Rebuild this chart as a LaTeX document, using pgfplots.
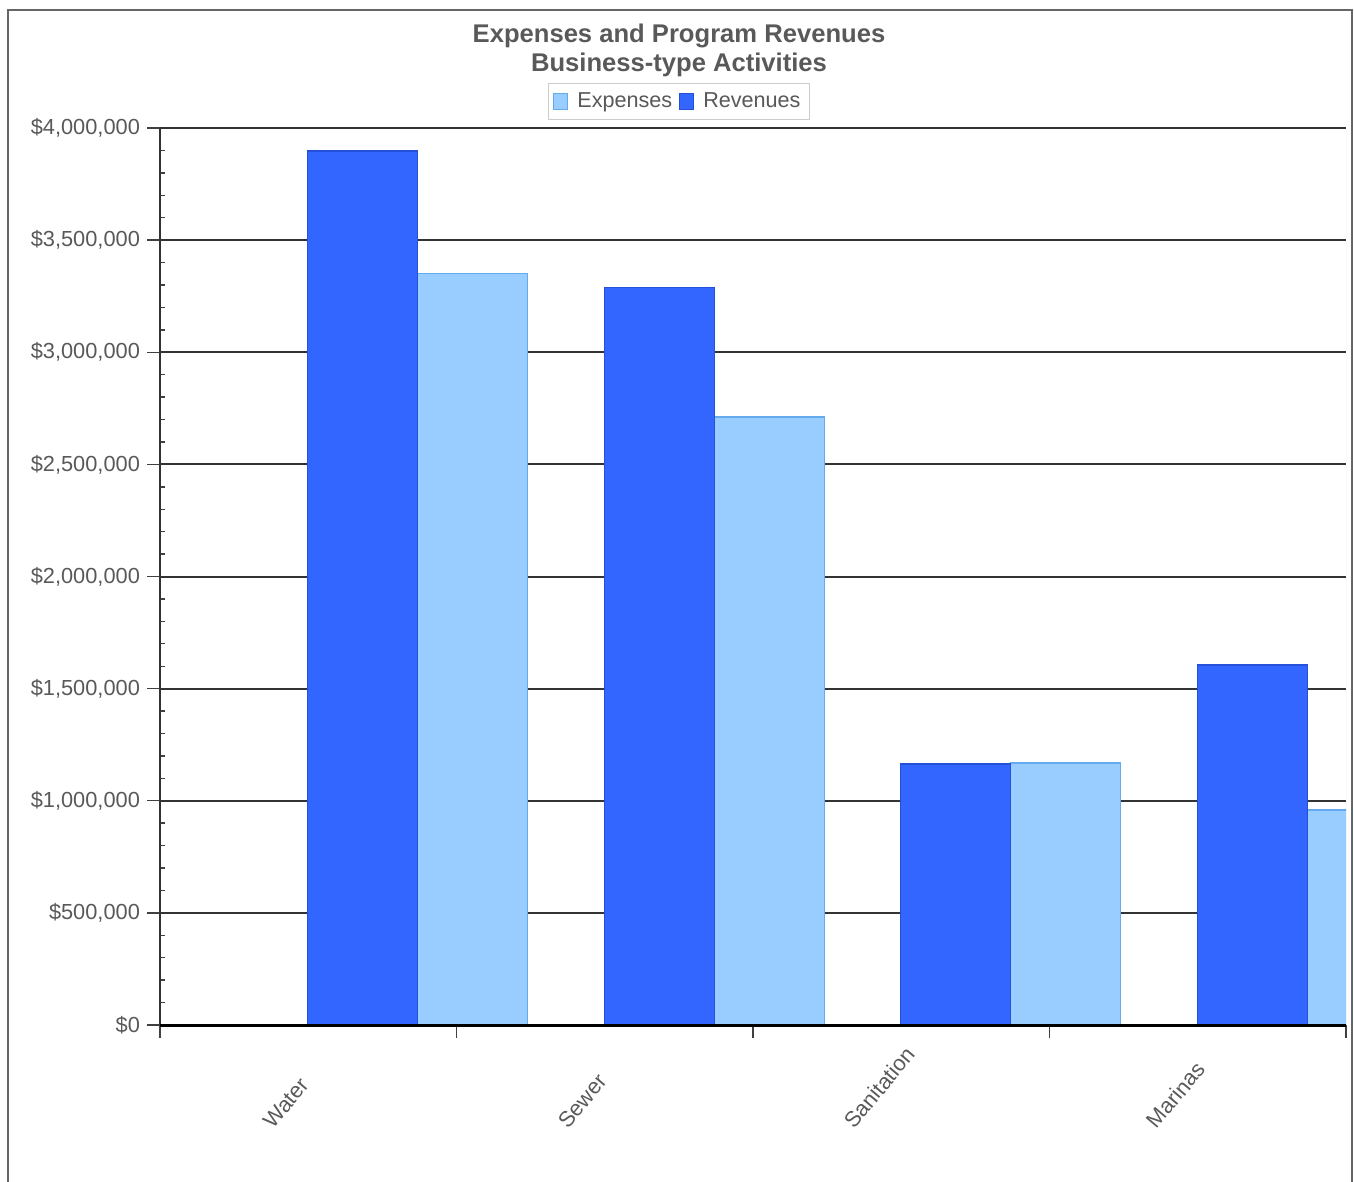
\documentclass[border=0pt]{standalone}
\usepackage{pgfplots}
\pgfplotsset{compat=1.18}
\usepackage{graphicx}
\usepackage{fontspec}
\setmainfont{Liberation Sans}
\definecolor{rev}{HTML}{3366FF}
\definecolor{revb}{HTML}{2450DA}
\definecolor{expc}{HTML}{99CCFF}
\definecolor{expb}{HTML}{66AAEE}
\definecolor{txt}{HTML}{595959}
\definecolor{grd}{HTML}{333333}
\pgfplotsset{sqlegend/.style={legend image code/.code={\draw[##1,line width=0.5pt] (0pt,-4pt) rectangle (7pt,4pt);}}}
\begin{document}
\begin{tikzpicture}
\useasboundingbox (0,0) rectangle (677pt,-591pt);
\draw[color=black!60, line width=1pt] (4pt,-600pt) -- (4pt,-5pt) -- (676pt,-5pt) -- (676pt,-600pt);
\node[font=\fontsize{12.8}{15}\selectfont\bfseries, text=txt] at (339.5pt,-18pt) {Expenses and Program Revenues};
\node[font=\fontsize{12.8}{15}\selectfont\bfseries, text=txt] at (339.5pt,-32.5pt) {Business-type Activities};
\begin{axis}[
  at={(80pt,-512.5pt)}, anchor=south west,
  scale only axis, width=593pt, height=448.5pt,
  xmin=0, xmax=4, ymin=0, ymax=4000000,
  axis x line*=bottom, axis y line*=left,
  x axis line style={black, line width=1.5pt, -},
  y axis line style={black!80, line width=0.8pt, -},
  scaled y ticks=false,
  ytick={0,500000,1000000,1500000,2000000,2500000,3000000,3500000,4000000},
  yticklabels={\$0,{\$500,000},{\$1,000,000},{\$1,500,000},{\$2,000,000},{\$2,500,000},{\$3,000,000},{\$3,500,000},{\$4,000,000}},
  yticklabel style={font=\fontsize{10.9}{13}\selectfont, text=txt},
  minor y tick num=4,
  tick align=outside, major tick length=6.5pt, minor tick length=-2.5pt,
  tick style={black!75, line width=0.7pt},
  xtick={0,1,2,3,4}, xticklabels={},
  extra x ticks={0.5,1.5,2.5,3.5},
  extra x tick labels={\rotatebox{50}{Water},\rotatebox{50}{Sewer},\rotatebox{50}{Sanitation},\rotatebox{50}{Marinas}},
  extra x tick style={major tick length=0pt, tick style={draw=none},
     xticklabel style={anchor=south, inner sep=0pt, xshift=-11pt, yshift=-52.5pt, font=\fontsize{10.9}{13}\selectfont, text=txt}},
  ymajorgrids, grid style={grd, line width=1pt},
  legend columns=2,
  legend style={at={(0.4376,1.030)}, anchor=center, draw=black!20, fill=white,
     font=\fontsize{10.8}{13}\selectfont, text=txt, inner sep=2.5pt,
     /tikz/every odd column/.append style={column sep=2.5pt},
     /tikz/every even column/.append style={column sep=1.5pt}},
]
\addplot[ybar, bar width=0.371, bar shift=0pt, fill=expc, draw=expb, line width=0.6pt, sqlegend]
  coordinates {(1.055,3350000) (2.055,2711000) (3.055,1168000) (4.055,959000)};
\addlegendentry{Expenses}
\addplot[ybar, bar width=0.371, bar shift=0pt, fill=rev, draw=revb, line width=0.6pt, sqlegend]
  coordinates {(0.684,3897000) (1.684,3287000) (2.684,1164000) (3.684,1605000)};
\addlegendentry{Revenues}
\draw[black!15, line width=0.5pt] (axis cs:4,0) -- (axis cs:4,4000000);
\draw[black, line width=1.5pt] (axis cs:0,0) -- (axis cs:4,0);
\end{axis}
\end{tikzpicture}
\end{document}
